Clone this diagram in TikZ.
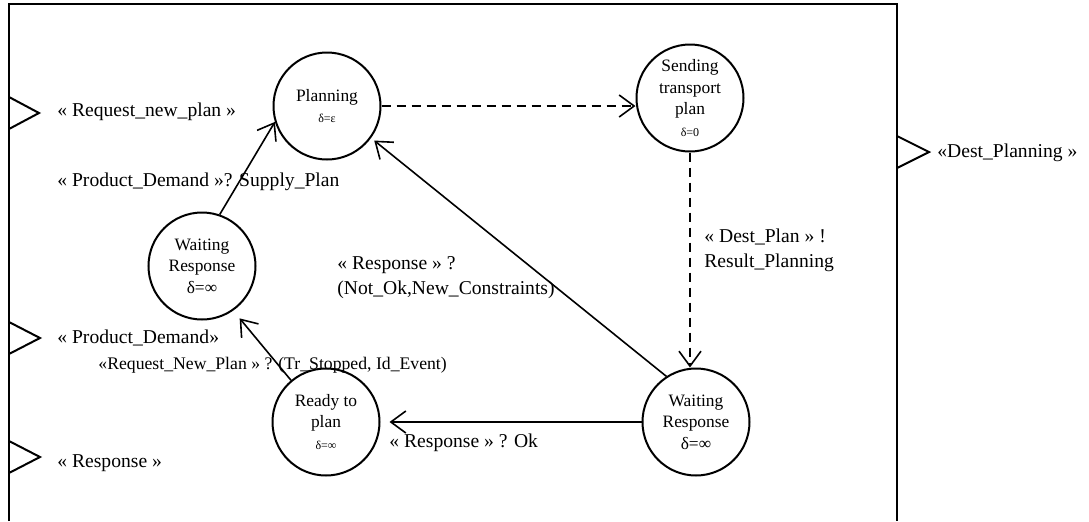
\documentclass[tikz,border=0pt]{standalone}
\usepackage{fontspec}
\setmainfont{Liberation Serif}
\usetikzlibrary{arrows.meta, positioning, calc}
\tikzstyle{state} = [circle, draw=black, line width=1pt, minimum size=53.5pt, inner sep=0pt, align=center, font=\fontsize{8.7}{10.8}\selectfont]
\tikzstyle{lbl} = [anchor=west, inner sep=0pt, align=left, font=\fontsize{9.8}{12.5}\selectfont]
\tikzstyle{arrow} = [line width=0.8pt, -{Straight Barb[length=7.5pt,width=11pt]}]
\tikzstyle{dasharrow} = [arrow, dash pattern=on 4.5pt off 3pt]
\tikzstyle{port} = [line width=1pt, line join=miter]
\newcommand{\smalldelta}[1]{{\fontsize{6}{7}\selectfont #1}}

\begin{document}
\begin{tikzpicture}[x=0.5pt, y=-0.5pt]
\useasboundingbox (0,0) rectangle (1089,521);

% Model frame and ports
\draw [port] (9,521) -- (9,4) -- (897,4) -- (897,521);
\draw [port] (9,97) -- (39,113) -- (9,129);
\draw [port] (9,322) -- (40,338) -- (9,354);
\draw [port] (9,441) -- (40,457) -- (9,473);
\draw [port] (897,136) -- (929,152) -- (897,168);

% States
\node (planning) [state] at (327,106) {Planning\\[-0.5pt]\smalldelta{δ=ε}};
\node (sending) [state, right of=planning, node distance=181.5pt, yshift=4pt] {Sending\\transport\\plan\\\smalldelta{δ=0}};
\node (waitR) [state, below of=sending, node distance=162pt, xshift=3pt] {Waiting\\Response\\δ=∞};
\node (ready) [state, left of=waitR, node distance=185pt] {Ready to\\plan\\\smalldelta{δ=∞}};
\node (waitL) [state, above of=ready, node distance=78pt, xshift=-62pt] {Waiting\\Response\\δ=∞};

% Port labels
\node (inReq) [lbl] at (57,112) {« Request\_new\_plan »};
\node (inDemand) [lbl] at (57,338) {« Product\_Demand»};
\node (inResp) [lbl] at (57,463) {« Response »};
\node (outDest) [lbl] at (937,153) {«Dest\_Planning »};

% Transitions
\draw [dasharrow] (planning) -- (planning -| sending.west);
\draw [dasharrow] (sending) -- (sending |- waitR.north);
\draw [arrow, shorten >=2pt] (waitR.123) -- (planning.-36);
\draw [arrow, shorten >=4.5pt] (waitR) -- (ready);
\draw [arrow, shorten >=5pt] (ready.130) -- (waitL.-55);
\draw [arrow] (waitL.71) -- (planning.197);

% Transition labels
\node (tSupply) [lbl] at (57,182) {« Product\_Demand »? Supply\_Plan};
\node (tNotOk) [lbl] at (337,278) {« Response » ?\\(Not\_Ok,New\_Constraints)};
\node (tNewPlan) [lbl, font=\fontsize{8.85}{10.5}\selectfont] at (98,365) {«Request\_New\_Plan » ? (Tr\_Stopped, Id\_Event)};
\node (tOk) [lbl] at (389,443) {« Response » ? Ok};
\node (tDest) [lbl] at (704,250) {« Dest\_Plan » !\\Result\_Planning};

\end{tikzpicture}
\end{document}
